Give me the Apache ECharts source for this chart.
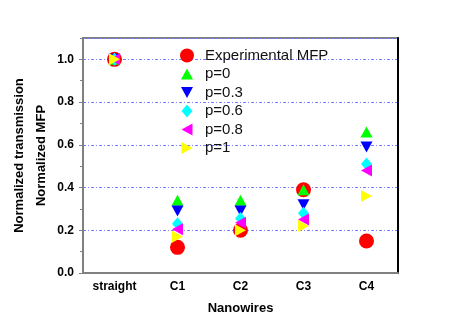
<!DOCTYPE html>
<meta charset="utf-8">
<style>
html, body { margin: 0; padding: 0; background: #fff; }
#main { width: 463px; height: 327px; }
</style>
<div id="main"></div>
<script src="https://cdn.jsdelivr.net/npm/echarts@6/dist/echarts.min.js"></script>
<script>
var wires = ['straight', 'C1', 'C2', 'C3', 'C4'];

var expMFP = [1.0, 0.12, 0.20, 0.39, 0.15];
var p0     = [1.0, 0.34, 0.34, 0.39, 0.66];
var p03    = [1.0, 0.29, 0.29, 0.32, 0.59];
var p06    = [1.0, 0.23, 0.255, 0.28, 0.51];
var p08    = [1.0, 0.205, 0.235, 0.25, 0.48];
var p1     = [1.0, 0.17, 0.20, 0.22, 0.36];

var font = 'Arial, "Liberation Sans", sans-serif';

// symbols drawn inside a 14x14 box so legend and plot keep the same size
var box = 'path://M0,0 M14,14 ';
var triUp = box + 'M7,1.5 L13,12.5 L1,12.5 Z';
var triDown = box + 'M1,1.5 L13,1.5 L7,12.5 Z';
var triLeft = box + 'M1.5,7 L12.5,1 L12.5,13 Z';
var triRight = box + 'M1.5,1 L12.5,7 L1.5,13 Z';
var diamond = box + 'M7,0.5 L12.5,7 L7,13.5 L1.5,7 Z';

var chart = echarts.init(document.getElementById('main'));

function mk(name, data, color, symbol, size) {
    return {
        name: name,
        type: 'scatter',
        data: data,
        symbol: symbol,
        symbolSize: size,
        itemStyle: { color: color, opacity: 1 },
        emphasis: { disabled: true }
    };
}

chart.setOption({
    animation: false,
    grid: {
        left: 83, right: 65, top: 38, bottom: 54,
        outerBoundsMode: 'none',
        containLabel: false,
        show: true, borderColor: '#808080', borderWidth: 2
    },
    legend: {
        orient: 'vertical',
        left: 175, top: 43,
        itemWidth: 14, itemHeight: 14, itemGap: 3.5,
        textStyle: { fontFamily: font, fontSize: 15, color: '#111', padding: [0, 0, 0, 6] },
        data: ['Experimental MFP', 'p=0', 'p=0.3', 'p=0.6', 'p=0.8', 'p=1']
    },
    xAxis: [{
        type: 'category',
        data: wires,
        name: 'Nanowires',
        nameLocation: 'middle',
        nameGap: 29,
        nameMoveOverlap: false,
        nameTextStyle: { fontFamily: font, fontSize: 13, fontWeight: 'bold', color: '#000' },
        axisLine: { lineStyle: { color: '#808080', width: 2 } },
        axisTick: { interval: 0, length: 4, lineStyle: { color: '#808080', width: 1 } },
        axisLabel: { fontFamily: font, fontSize: 12, fontWeight: 'bold', color: '#000', margin: 8 },
        splitLine: { show: false }
    }, {
        type: 'category',
        data: wires,
        position: 'bottom',
        axisLine: { show: false },
        axisTick: { alignWithLabel: true, length: 4, lineStyle: { color: '#808080', width: 1 } },
        axisLabel: { show: false },
        splitLine: { show: false }
    }],
    yAxis: [{
        type: 'value',
        min: 0, max: 1.1, interval: 0.2,
        name: 'Normalized transmission\nNormalized MFP',
        nameLocation: 'middle',
        nameRotate: 90,
        nameGap: 31,
        nameMoveOverlap: false,
        nameTextStyle: { fontFamily: font, fontSize: 13, fontWeight: 'bold', color: '#000', lineHeight: 22 },
        axisLine: { show: true, lineStyle: { color: '#808080', width: 2 } },
        axisTick: { show: true, length: 4, lineStyle: { color: '#808080', width: 1 } },
        axisLabel: {
            fontFamily: font, fontSize: 12, fontWeight: 'bold', color: '#000', margin: 9,
            showMaxLabel: false,
            formatter: function (v) { return v.toFixed(1); }
        },
        splitLine: {
            show: true,
            lineStyle: { color: '#7b7bff', width: 1, type: [3, 2, 1, 2] }
        }
    }, {
        type: 'value',
        min: 0, max: 1.1, interval: 0.1,
        position: 'left',
        axisLine: { show: false },
        axisTick: { show: true, length: 3, lineStyle: { color: '#808080', width: 1 } },
        axisLabel: { show: false },
        splitLine: { show: false }
    }, {
        type: 'value',
        min: 0, max: 1.1,
        position: 'right',
        axisLine: { show: true, lineStyle: { color: '#000', width: 2 } },
        axisTick: { show: false },
        axisLabel: { show: false },
        splitLine: { show: false }
    }],
    series: [
        mk('Experimental MFP', expMFP, '#ff0000', 'circle', 15),
        mk('p=0', p0, '#00ff00', triUp, 14),
        mk('p=0.3', p03, '#0000ff', triDown, 14),
        mk('p=0.6', p06, '#00ffff', diamond, 14),
        mk('p=0.8', p08, '#ff00ff', triLeft, 14),
        mk('p=1', p1, '#ffff00', triRight, 14)
    ]
});
</script>
